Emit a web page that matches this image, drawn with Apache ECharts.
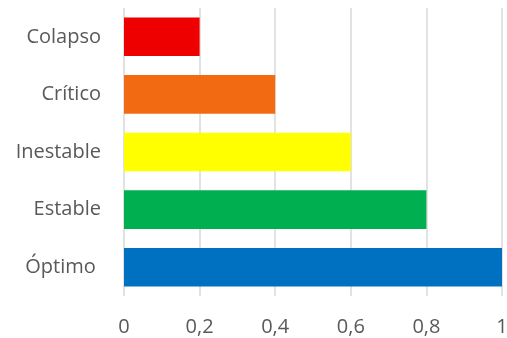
<!DOCTYPE html>
<html>
	<head>
		<meta charset="UTF-8">
		<title></title>
		<style>body{margin:0;background:#fff;}</style>
	</head>
	<body>
		<div id='bar' style="width:507px;height:338px;"></div>
	</body>
	<script type="text/javascript" src="https://cdn.jsdelivr.net/npm/echarts@6/dist/echarts.min.js"></script>
	<script>
		// de abajo hacia arriba
		var categorias = ['Óptimo ', 'Estable', 'Inestable', 'Crítico', 'Colapso'];
		var valores = [1, 0.8, 0.6, 0.4, 0.2];
		var colores = ['#0070C0', '#00B050', '#FFFF00', '#F26B12', '#EE0000'];

		var chart = echarts.init(document.getElementById('bar'));
		var option = {
			animation: false,
			grid: { left: 124, right: 5, top: 8, bottom: 42, containLabel: false, outerBoundsMode: 'none' },
			xAxis: {
				type: 'value',
				min: 0,
				max: 1,
				interval: 0.2,
				axisLine: { show: false },
				axisTick: { show: false },
				splitLine: { show: true, lineStyle: { color: '#D9D9D9', width: 1.5 } },
				axisLabel: {
					color: '#595959',
					fontSize: 20,
					fontFamily: 'Open Sans',
					margin: 21,
					formatter: function (v) { return String(Math.round(v * 10) / 10).replace('.', ','); }
				}
			},
			yAxis: {
				type: 'category',
				data: categorias,
				axisLine: { show: false },
				axisTick: { show: false },
				axisLabel: {
					color: '#595959',
					fontSize: 20,
					fontFamily: 'Open Sans',
					margin: 23
				}
			},
			series: [{
				type: 'bar',
				barWidth: '67%',
				data: valores.map(function (v, i) {
					return { value: v, itemStyle: { color: colores[i] } };
				})
			}]
		};
		chart.setOption(option);
	</script>
</html>
